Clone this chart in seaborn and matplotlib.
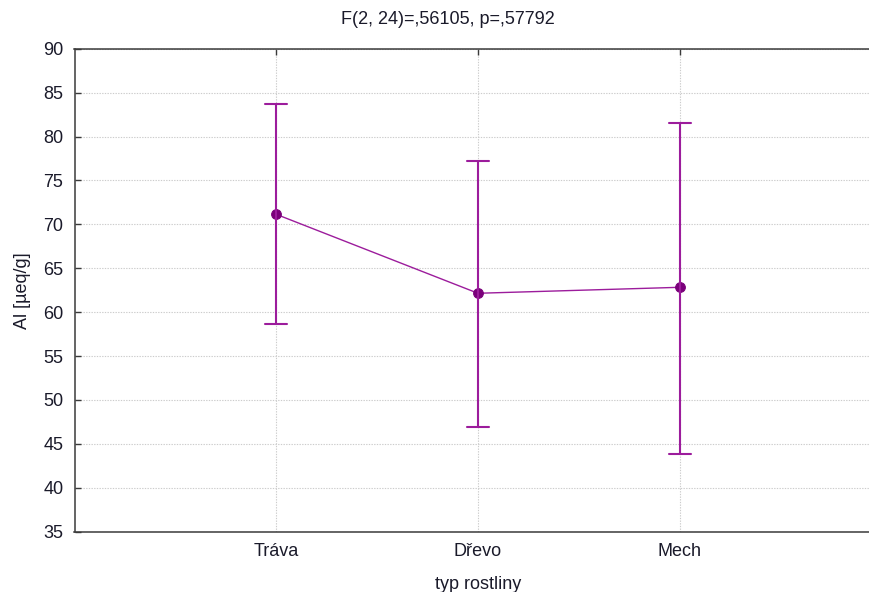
import numpy as np
import pandas as pd
import matplotlib
matplotlib.use("Agg")
import matplotlib.pyplot as plt
import seaborn as sns

# Group means of Al content with their 95% confidence limits
categories = ["Tráva", "Dřevo", "Mech"]
means = [71.14, 62.15, 62.83]
lower = [58.62, 46.96, 43.85]
upper = [83.67, 77.18, 81.57]
y_ticks = [35, 40, 45, 50, 55, 60, 65, 70, 75, 80, 85, 90]

title = "F(2, 24)=,56105, p=,57792"
x_label = "typ rostliny"
y_label = "Al [µeq/g]"

# Long table: each group carries its lower limit, mean and upper limit,
# so the median is the mean and the full range is the interval.
rows = []
for cat, lo, m, hi in zip(categories, lower, means, upper):
    for v in (lo, m, hi):
        rows.append({"typ": cat, "Al": v})
df = pd.DataFrame(rows)

sns.set_theme(style="white")
plt.rcParams["font.family"] = ["Liberation Sans", "DejaVu Sans"]

line_color = "#9c1c9c"
dot_color = "#7a007a"
text_color = "#1a1a2a"
fs = 13

fig = plt.figure(figsize=(8.69, 5.92), dpi=100)
ax = fig.add_axes([74.5 / 869, 60.3 / 592, 807 / 869, 483 / 592])

sns.pointplot(
    data=df, x="typ", y="Al", order=categories,
    estimator="median", errorbar=("pi", 100),
    color=line_color, capsize=0.11, ax=ax,
    markers="o", markersize=7, linewidth=1.0,
    err_kws={"linewidth": 1.5},
)
for ln in ax.lines:
    if ln.get_marker() == "o":
        ln.set_markerfacecolor(dot_color)
        ln.set_markeredgecolor(dot_color)

ax.set_xlim(-1, 3)
ax.set_ylim(35, 90)
ax.set_yticks(y_ticks)

ax.grid(True, color="#cccccc", linestyle=(0, (1.2, 1.2)), linewidth=0.8)
ax.set_axisbelow(True)

for side in ["left", "bottom", "top", "right"]:
    ax.spines[side].set_color("#3a3a3a")
    ax.spines[side].set_linewidth(1.1)

ax.tick_params(axis="both", direction="in", length=4, width=1,
               color="#3a3a3a", labelsize=fs, labelcolor=text_color)
ax.tick_params(axis="x", top=True, pad=8)
ax.tick_params(axis="y", left=True, pad=8)

ax.set_xlabel(x_label, fontsize=fs, color=text_color, labelpad=12)
ax.set_ylabel(y_label, fontsize=fs, color=text_color, labelpad=9)
fig.text(448 / 869, 1 - 20 / 592, title, ha="center", va="center",
         fontsize=fs, color=text_color)

fig.savefig("out.png", dpi=100)
